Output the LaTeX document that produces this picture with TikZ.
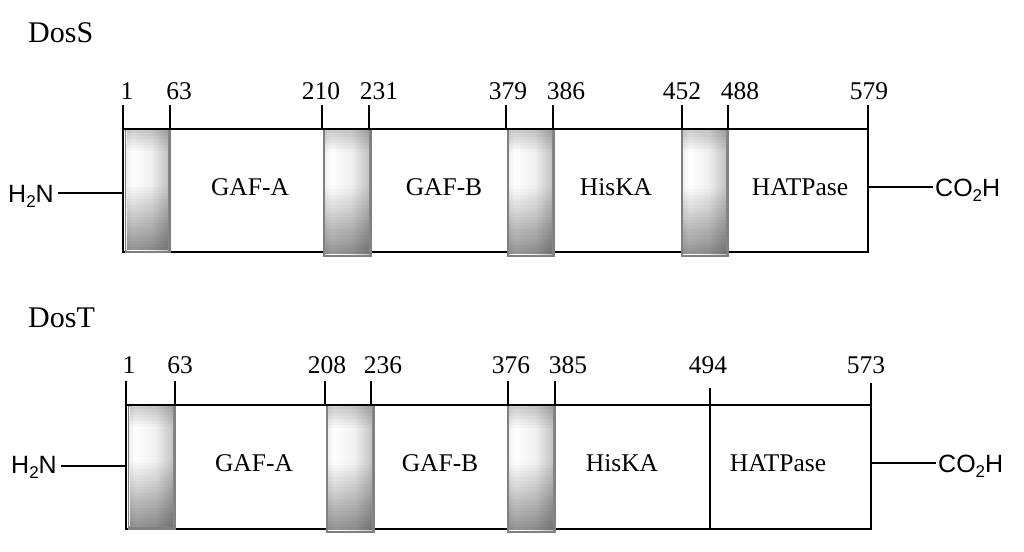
\documentclass[tikz,border=0pt]{standalone}
\usepackage{fontspec}
\setmainfont{Liberation Serif}
\newfontfamily\helv{Liberation Sans}
\pgfdeclarehorizontalshading{tmshade}{100bp}{color(0bp)=(black!42); color(14bp)=(black!14); color(32bp)=(white); color(55bp)=(black!6); color(80bp)=(black!28); color(100bp)=(black!45)}
\tikzset{
  ln/.style={line width=2.8pt, line cap=butt},
  tmedge/.style={fill=black!50},
  num/.style={font=\fontsize{25.5}{30}\selectfont, inner sep=0pt, anchor=base},
  dom/.style={font=\fontsize{25.5}{30}\selectfont, inner sep=0pt, anchor=base},
  ttl/.style={font=\fontsize{30}{36}\selectfont, inner sep=0pt, anchor=base west},
  chem/.style={font=\helv\fontsize{25}{30}\selectfont, inner sep=0pt},
}
\newcommand\tmseg[4]{%
  \fill[tmedge] (#1,#2) rectangle (#3,#4);
  \shade[shading=tmshade] (#1+2,#2) rectangle (#3-3,#4-3);
  \pgfmathsetmacro\tmh{(#4-3)-(#2)}%
  \foreach \i in {0,...,39}{%
    \pgfmathsetmacro\tmt{(\i+0.5)/40}%
    \pgfmathsetmacro\tmop{\tmt<0.18 ? 0.2*(1-\tmt/0.18) : (\tmt>0.45 ? 0.42*(\tmt-0.45)/0.55 : 0)}%
    \fill[black, fill opacity=\tmop] (#1+2,{#2+\i*\tmh/40}) rectangle (#3-3,{#2+(\i+1)*\tmh/40});
  }%
}
\begin{document}
\begin{tikzpicture}[x=1pt,y=-1pt]
\useasboundingbox (0,0) rectangle (1024,551);
% ---------------- DosS ----------------
\node[ttl] (tS) at (28,42) {DosS};
\draw[ln] (123,129) rectangle (868,252);
\tmseg{124.5}{130.4}{171}{253.4}
\tmseg{323}{130.4}{372}{257}
\tmseg{507}{130.4}{555}{257}
\tmseg{681}{130.4}{729}{257}
\foreach \x in {123,170,322,369,506,553,682,728,868}
  \draw[ln] (\x,105) -- (\x,130);
\node[num] (s1) at (127,99) {1};
\node[num] (s63) at (179,99) {63};
\node[num] (s210) at (321,99) {210};
\node[num] (s231) at (379,99) {231};
\node[num] (s379) at (508,99) {379};
\node[num] (s386) at (566,99) {386};
\node[num] (s452) at (682,99) {452};
\node[num] (s488) at (740,99) {488};
\node[num] (s579) at (869,99) {579};
\node[dom] (sA) at (250,195) {GAF-A};
\node[dom] (sB) at (444,195) {GAF-B};
\node[dom] (sH) at (616,195) {HisKA};
\node[dom] (sP) at (800,195) {HATPase};
\node[chem, anchor=base east] (sN) at (54,202) {H\raisebox{-5pt}{\fontsize{17}{17}\selectfont 2}N};
\node[chem, anchor=base west] (sC) at (935,196) {CO\raisebox{-5pt}{\fontsize{17}{17}\selectfont 2}H};
\coordinate (sNe) at (58,193);
\coordinate (sL) at (123,193);
\coordinate (sR) at (868,187);
\coordinate (sCw) at (933,187);
\draw[ln] (sNe) -- (sL);
\draw[ln] (sR) -- (sCw);
% ---------------- DosT ----------------
\node[ttl] (tT) at (28,327) {DosT};
\draw[ln] (126,405) rectangle (871,529);
\tmseg{127.5}{406.4}{176}{529.5}
\tmseg{326}{406.4}{375}{533}
\tmseg{507}{406.4}{556}{533}
\foreach \x in {126,175,325,371,508,555}
  \draw[ln] (\x,381) -- (\x,406);
\draw[ln] (871,383) -- (871,406);
\draw[ln] (710,388) -- (710,529);
\node[num] (t1) at (129,373) {1};
\node[num] (t63) at (180,373) {63};
\node[num] (t208) at (327,373) {208};
\node[num] (t236) at (383,373) {236};
\node[num] (t376) at (511,373) {376};
\node[num] (t385) at (568,373) {385};
\node[num] (t494) at (708,373) {494};
\node[num] (t573) at (866,373) {573};
\node[dom] (tA) at (254,471) {GAF-A};
\node[dom] (tB) at (440,471) {GAF-B};
\node[dom] (tH) at (622,471) {HisKA};
\node[dom] (tP) at (778,471) {HATPase};
\node[chem, anchor=base east] (tN) at (57,473) {H\raisebox{-5pt}{\fontsize{17}{17}\selectfont 2}N};
\node[chem, anchor=base west] (tC) at (938,472) {CO\raisebox{-5pt}{\fontsize{17}{17}\selectfont 2}H};
\coordinate (tNe) at (61,466);
\coordinate (tL) at (126,466);
\coordinate (tR) at (871,463);
\coordinate (tCw) at (936,463);
\draw[ln] (tNe) -- (tL);
\draw[ln] (tR) -- (tCw);
\end{tikzpicture}
\end{document}
